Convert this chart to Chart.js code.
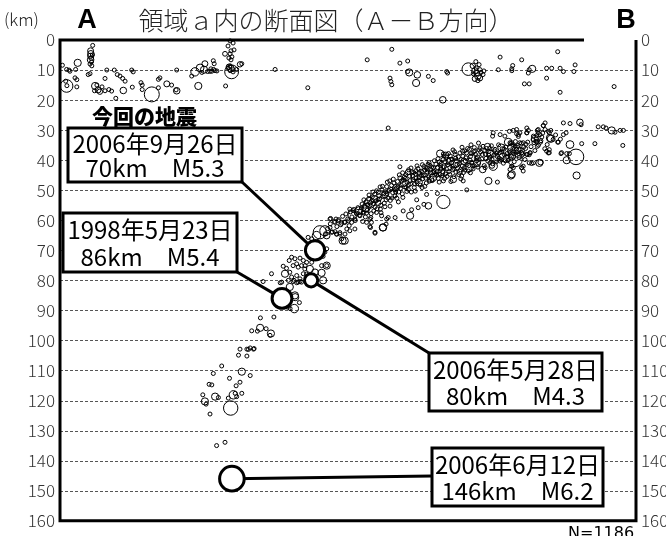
<!DOCTYPE html>
<html>
<head>
<meta charset="utf-8">
<script src="https://cdn.jsdelivr.net/npm/chart.js@4.4.1/dist/chart.umd.min.js"></script>
<style>
  body { margin: 0; background: #fff; }
  #wrap { width: 666px; height: 536px; }
</style>
</head>
<body>
<div id="wrap"><canvas id="chart" width="666" height="536"></canvas></div>
<script>
// 震源データ [断面方向の距離(km), 深さ(km), マグニチュード]
const shallowQuakes = [
  [0.8,8.4,2],[2.2,9.8,2],[3.0,10.0,2.6],[3.3,10.4,2],[5.9,7.6,3.3],[5.2,9.8,2],[1.9,13.7,2],[2.2,15.3,4.2],[2.3,15.2,2.5],[5.0,12.6,2.7],[5.6,13.2,2],[5.6,15.6,2],
  [10.9,1.8,2],[10.2,3.6,3.1],[10.3,4.6,3.2],[10.1,5.3,3],[10.4,6.0,2.9],[10.2,6.6,3.2],[10.5,7.3,2.6],[10.0,8.0,2.7],[10.6,8.6,2.5],[10.8,5.0,2],
  [9.4,11.5,2],[10.0,11.2,2],[11.7,15.3,3.3],[12.7,16.6,3.1],[11.5,16.9,2],[14.0,15.6,2.6],[13.3,17.2,3.0],[15.0,16.9,2],[16.3,16.5,2],[12.3,15.0,2],
  [15.0,12.8,2],[15.6,10.0,2.6],[17.2,17.0,2],[18.1,10.0,2],[19.1,11.5,2],[20.0,12.0,2],[20.9,12.8,2],[21.7,13.7,2],[18.6,19.4,2],[21.1,16.8,3.2],
  [23.9,10.0,2.6],[24.4,10.6,2.6],[24.1,15.7,2],[27.0,14.2,2],[27.4,15.0,2],[27.4,16.5,2],[30.6,18.1,4.6],[32.8,13.1,2],[33.3,12.6,2],[32.8,15.9,2],
  [35.6,14.6,3.1],[37.2,15.0,2],[38.9,10.0,2],[38.9,16.9,3.2],[38.7,16.6,2.6],[43.9,12.0,2],[46.1,15.3,3.3],
  [45.0,10.6,3.5],[46.7,9.3,3.4],[48.3,7.9,3.1],[48.0,9.9,3.3],[50.0,10.4,2.8],[50.3,9.6,2.6],[51.7,10.2,2.6],[51.2,9.8,2],[52.3,10.3,2],
  [51.1,6.9,2.6],[51.4,7.9,2.6],[50.6,10.4,2],[49.2,10.5,2],[47.3,10.8,2.6],[55.2,15.3,2],
  [56.7,0.3,2],[57.7,1.0,2],[56.0,2.0,2],[57.0,3.6,2],[58.0,3.3,2],[55.0,4.6,2.9],[56.7,4.6,2],[57.3,5.6,2],[56.3,6.0,2],[57.0,6.6,2],
  [56.7,8.6,2.6],[56.0,9.3,2.6],[57.7,9.9,2.6],[56.7,10.2,2.6],[57.7,10.6,2],[57.2,10.6,4.4],[58.9,9.8,2.6],[60.0,8.1,3.0],[60.6,7.9,2],[56.3,8.9,3.0],[57.0,9.5,3.2],
  [71.7,9.8,2],[82.6,15.9,2],
  [110.6,3.1,2],[102.4,6.6,2],[113.3,7.7,2],[115.9,7.0,2],[116.4,10.8,3.3],[115.9,10.5,2.6],[119.1,11.6,3.2],[118.7,14.3,3.3],[110.0,12.7,2],[110.3,13.8,2],
  [110.6,14.9,2],[122.8,12.1,2],[124.4,13.5,2],[128.9,10.5,2.6],[129.2,11.0,2.6],
  [136.1,9.7,4.2],[137.6,8.6,3.0],[138.3,10.3,3.2],[139.0,11.0,3.0],[139.3,12.0,3.2],[140.0,12.7,3.0],[138.7,9.3,2.8],[140.0,9.9,2.8],[139.7,8.2,2.6],
  [140.3,10.8,2.8],[138.3,12.9,3.0],[141.0,11.5,2.6],[139.3,13.5,2.8],[137.8,11.2,2.8],[141.3,10.3,2],[138.6,7.2,2],
  [127.6,19.9,3.2],
  [146.7,5.7,2],[146.1,9.9,2],[150.6,9.6,2],[150.9,8.5,2],[150.6,10.2,2],[153.9,6.6,2],[156.1,11.0,2],[156.4,9.9,2],[157.4,9.6,3.3],[162.2,9.4,2],
  [163.9,9.4,2],[166.7,9.4,2],[167.8,10.5,2],[165.9,3.9,2],[171.7,8.3,2.6],[171.3,10.5,2],[162.2,12.7,2],[154.8,14.6,2],[156.4,14.6,2],[166.7,17.4,2],
  [184.7,15.5,2],[109.4,29.3,2]
];

const slabQuakes = [
  // 東側の浅い部分
  [167.8,27.6,2],[170.0,27.8,2],[173.3,27.4,3.2],[173.7,28.2,2],[179.4,28.9,2],[181.1,28.9,2],[182.0,29.3,2],[183.9,30.1,3.3],[185.0,30.7,2],[186.7,30.1,2],
  [187.8,30.1,2],[187.6,35.1,2],[178.3,34.5,2],[173.9,34.5,2],[170.0,34.8,3.4],[172.0,38.9,4.7],[168.9,40.0,3.3],[168.9,37.8,2],[169.8,37.8,2],[172.2,45.1,3.3],
  [167.0,37.8,2],[166.1,34.0,2],[163.6,32.9,3.3],[163.1,30.9,2],[163.6,30.1,2],[161.1,28.5,2],[161.7,29.8,2],[162.4,34.8,2],[163.1,36.5,2],[162.8,37.6,2],
  [167.8,31.5,2],[168.7,30.9,2],[159.1,30.1,2],[159.4,30.9,2],[157.8,32.0,2],[158.7,32.9,2],[158.9,34.0,2],[160.2,34.0,2],[159.1,35.4,2],[159.8,40.9,3.3],
  [160.2,40.7,3.0],[156.7,37.6,2],[155.8,38.1,2],[153.9,37.6,2],[156.1,30.1,2],[155.6,30.9,2],[153.3,30.9,2],[152.2,31.2,2],[152.8,32.1,2],[149.8,30.4,2],
  [151.1,30.1,2],[149.4,34.0,3.4],[148.3,32.0,2],[146.7,31.5,2],[144.4,30.9,2],[144.2,32.0,2],[153.3,37.6,3.8],[151.7,39.8,4.5],[150.6,42.0,2],[150.0,43.1,2],
  [150.3,45.1,3.3],[154.4,42.0,2],[153.9,42.5,2],[142.8,46.9,3.3],[145.8,47.3,2],[144.4,42.0,3.5],[143.3,40.9,2],[141.7,42.5,2],[140.9,43.1,3.2],[146.7,40.3,2],
  [167.2,37.5,2],[165.9,34.0,2],[162.8,30.4,2],[163.3,32.6,3.3],[161.1,28.5,2],[159.4,29.8,2],[160.0,31.5,2],[160.6,32.3,2],[162.2,37.0,2],[163.1,37.5,2],
  [158.3,32.9,3.3],[158.7,33.7,2],[158.0,34.2,2],[156.7,37.5,2],[157.2,41.1,2],[156.4,40.9,2],[157.8,40.9,2],[155.6,29.3,2],[155.6,30.9,2],[154.4,34.2,2],
  [155.3,34.7,2],[152.2,29.8,2],[152.8,31.5,2],[153.3,34.2,2],[151.7,35.4,2],[150.6,34.2,2],[152.2,36.4,3.5],[153.9,37.5,2],[150.6,38.7,3.3],[155.0,39.8,2],
  [155.6,38.1,2],[150.6,42.0,2],[151.1,42.5,2],[153.9,42.5,2],[154.4,43.6,2],[150.6,44.7,3.3],[150.0,34.2,2],[161.7,27.6,2],
  // 孤立した点
  [126.7,37.8,3.3],[127.8,53.9,4.3],[122.8,55.2,3.2],[121.3,54.7,2],[119.4,55.8,2],[118.9,53.2,2],[122.2,51.4,2],[125.8,51.1,2],[135.6,49.9,2],[131.1,46.4,3.2],
  [134.4,46.9,2],[127.8,46.9,2],[116.7,58.5,3.3],[117.2,56.5,2],[114.4,56.9,2],[113.3,42.2,2],[105.0,64.3,2],[107.6,62.4,3.3],[108.7,61.3,2],[103.3,62.1,2],
  [102.2,60.7,2],[103.6,59.1,2],[109.4,59.1,2],[111.7,59.1,2],[94.2,66.8,3.3],[95.0,64.6,2],[93.3,64.1,2],[92.2,64.6,2],[91.7,63.8,2],[90.2,59.4,2],
  [92.0,59.6,2],[93.9,61.0,2],[95.6,62.9,2],[88.9,75.1,2],[83.9,74.0,2],[81.7,75.1,2],[82.2,77.9,2],
  // 帯状の密集部
  [88.5,64.5,2],[89.2,62.8,2],[90.1,61.2,2],[90.8,63.9,2],[91.5,60.4,2],[92.3,62.1,2],[92.9,59.8,2],[93.6,61.5,2],[94.2,58.7,2],[94.8,60.6,2],
  [95.3,57.9,2],[95.9,59.6,2],[96.4,61.8,2],[96.8,57.2,2],[97.3,58.9,2],[97.9,56.4,2],[98.4,60.1,2],[98.8,57.6,2],[99.3,55.8,2],[99.8,58.3,2],
  [100.2,56.9,2],[100.7,54.6,2],[101.1,57.5,2],[101.6,55.3,2],[97.5,58.2,3.6],[99.6,56.8,3.4],
  [102.0,53.9,2],[102.4,56.7,2],[102.9,52.8,2],[103.3,55.1,2],[103.7,57.8,2],[104.1,52.2,2],[104.5,54.4,2],[104.9,51.3,2],[105.3,53.6,2],[105.7,56.2,2],
  [106.1,50.7,2],[106.5,52.9,2],[106.9,55.0,2],[107.3,49.9,2],[107.7,52.1,2],[108.1,54.3,2],[108.5,50.5,2],[108.9,48.8,2],[109.3,52.6,2],[109.7,50.1,2],
  [110.1,53.4,2],[110.5,48.4,2],[110.9,50.8,2],[111.3,47.6,2],[111.7,51.9,2],[112.1,49.3,2],[102.6,54.8,2],[103.9,53.7,2],[105.0,55.6,2],[106.3,51.8,2],
  [107.9,51.2,2],[108.7,53.2,2],[110.3,49.7,2],[111.5,49.8,2],[104.3,50.6,2],[106.7,48.9,2],[109.1,47.3,2],[101.8,58.9,2],[100.9,60.4,2],
  [104.8,53.0,3.3],[108.3,51.5,3.2],[110.8,51.2,3.5],[106.1,54.2,3.0],[103.3,54.2,3.9],[102.0,55.7,3.5],[101.8,56.2,3.2],[112.0,49.2,3.2],
  [100.5,55.9,2],[101.3,53.2,2],[102.2,57.6,2],[103.0,51.6,2],[103.5,54.2,2],[104.6,56.9,2],[105.5,50.2,2],[106.0,53.1,2],[106.8,56.3,2],[107.5,48.7,2],
  [108.3,55.5,2],[109.0,51.1,2],[109.9,46.9,2],[110.7,52.6,2],[111.1,46.3,2],[111.9,50.6,2],[112.3,52.7,2],[110.0,55.3,2],[112.8,53.9,2],[107.0,57.5,2],[103.8,60.7,2],
  [112.5,47.1,2],[112.9,50.6,2],[113.3,45.9,2],[113.7,48.3,2],[114.1,51.2,2],[114.5,46.6,2],[114.9,48.9,2],[115.3,44.8,2],[115.7,47.4,2],[116.1,49.7,2],
  [116.5,45.3,2],[116.9,47.9,2],[117.3,43.9,2],[117.7,46.5,2],[118.1,49.1,2],[118.5,44.6,2],[118.9,47.2,2],[119.3,42.8,2],[119.7,45.8,2],[120.1,48.3,2],
  [120.5,43.7,2],[120.9,46.2,2],[121.3,42.1,2],[121.7,44.9,2],[122.1,47.6,2],[122.5,43.2,2],[122.9,45.6,2],[123.3,41.7,2],[123.7,44.2,2],[124.1,46.8,2],
  [124.5,42.5,2],[124.9,44.9,2],[112.7,48.8,2],[113.9,46.9,2],[115.1,46.1,2],[116.3,48.2,2],[117.5,45.1,2],[118.7,46.0,2],[119.9,44.3,2],[121.1,45.1,2],
  [122.3,44.0,2],[123.5,43.0,2],[124.7,43.8,2],[114.2,44.2,2],[117.0,42.6,2],[120.8,41.5,2],[118.4,50.3,2],[121.6,48.7,2],[115.6,50.4,2],[123.0,40.8,2],
  [113.1,44.9,2],[113.5,49.4,2],[114.3,52.4,2],[114.8,45.6,2],[115.4,49.1,2],[116.2,43.2,2],[116.7,46.8,2],[117.1,50.6,2],[117.9,44.1,2],[118.3,47.9,2],
  [119.0,41.9,2],[119.5,46.7,2],[120.3,45.1,2],[120.7,49.1,2],[121.5,43.3,2],[121.9,46.0,2],[122.7,41.4,2],[123.1,47.0,2],[123.9,42.3,2],[124.3,44.1,2],
  [124.8,40.2,2],[118.6,43.5,2],[122.0,42.6,2],
  [114.6,47.6,3.3],[118.2,45.4,3.2],[121.5,44.2,3.5],[124.3,45.9,3.3],[116.0,44.0,3.0],[119.6,47.4,3.3],[123.6,46.4,3.1],
  [125.3,41.3,2],[125.7,43.9,2],[126.1,46.1,2],[126.5,40.6,2],[126.9,42.9,2],[127.3,45.2,2],[127.7,39.8,2],[128.1,42.2,2],[128.5,44.6,2],[128.9,39.1,2],
  [129.3,41.5,2],[129.7,43.8,2],[130.1,38.6,2],[130.5,40.9,2],[130.9,43.2,2],[131.3,45.5,2],[131.7,38.1,2],[132.1,40.3,2],[132.5,42.6,2],[132.9,44.8,2],
  [133.3,37.6,2],[133.7,39.8,2],[134.1,41.9,2],[134.5,44.1,2],[134.9,36.9,2],[135.3,39.2,2],[135.7,41.4,2],[136.1,43.6,2],[136.5,36.4,2],[136.9,38.7,2],
  [137.3,40.8,2],[137.7,42.9,2],[138.1,35.8,2],[138.5,38.1,2],[138.9,40.2,2],[139.3,42.3,2],[139.7,36.6,2],
  [125.9,42.5,2],[127.0,41.1,2],[128.3,40.5,2],[129.6,40.0,2],[130.7,42.0,2],[131.9,39.3,2],[133.1,41.2,2],[134.3,38.7,2],[135.5,37.6,2],[136.7,40.0,2],
  [137.9,37.2,2],[139.1,38.9,2],[126.6,44.8,2],[129.0,45.4,2],[132.0,44.0,2],[135.0,43.3,2],[138.0,41.8,2],[127.8,37.9,2],[131.0,36.6,2],[134.0,35.7,2],
  [137.0,34.9,2],[139.5,34.3,2],[130.3,47.1,2],[133.6,46.2,2],
  [125.5,45.0,2],[126.0,39.5,2],[126.8,41.8,2],[127.5,43.8,2],[128.0,38.6,2],[128.8,42.9,2],[129.5,37.8,2],[129.9,44.7,2],[130.6,39.7,2],[131.2,42.7,2],
  [131.5,37.2,2],[132.3,41.4,2],[132.8,38.9,2],[133.5,43.2,2],[134.2,37.0,2],[134.8,42.5,2],[135.1,40.3,2],[135.9,36.1,2],[136.3,41.8,2],[137.1,37.8,2],
  [137.6,41.9,2],[138.3,36.9,2],[138.8,39.4,2],[139.5,40.8,2],[126.4,47.3,2],[128.2,46.1,2],[133.9,45.3,2],[136.8,44.2,2],
  [126.2,43.0,3.4],[129.4,42.3,3.3],[131.8,41.0,3.6],[134.7,40.4,3.2],[137.3,39.2,3.4],[139.0,41.0,3.3],[128.6,38.3,3.1],[133.2,43.9,3.0],[136.4,42.4,3.5],
  [127.1,44.1,3.3],[130.0,40.4,3.4],
  [140.2,37.3,2],[140.6,39.6,2],[141.0,35.4,2],[141.4,41.8,2],[141.8,38.0,2],[142.2,36.1,2],[142.6,40.3,2],[143.0,37.1,2],[143.4,39.0,2],[143.8,35.2,2],
  [144.2,41.2,2],[144.6,38.3,2],[145.0,36.4,2],[145.4,40.6,2],[145.8,38.8,2],[146.2,34.9,2],[146.6,37.5,2],[147.0,39.8,2],[147.4,36.2,2],[147.8,41.0,2],
  [148.2,38.3,2],[148.6,35.6,2],[149.0,37.8,2],[149.4,40.1,2],[149.8,36.9,2],[150.2,34.5,2],[150.6,38.7,2],[151.0,36.0,2],[151.4,40.5,2],[151.8,33.8,2],
  [152.2,37.4,2],[152.6,35.1,2],[153.0,39.2,2],[153.4,36.3,2],[153.8,34.4,2],[154.2,38.0,2],[154.6,35.6,2],
  [140.0,35.9,2],[140.8,38.1,2],[141.6,36.7,2],[142.0,39.4,2],[142.9,38.3,2],[143.2,36.1,2],[144.0,39.7,2],[144.8,36.9,2],[145.6,37.6,2],[146.4,39.4,2],
  [147.2,37.2,2],[148.0,36.3,2],[148.4,40.2,2],[149.2,38.8,2],[150.0,37.5,2],[151.2,38.9,2],[152.0,36.4,2],[152.9,37.8,2],
  [141.3,38.8,3.5],[143.6,37.9,3.3],[145.2,39.2,3.6],[146.9,38.4,3.4],[148.8,39.5,3.3],[142.5,35.5,3.2],[147.1,35.8,3.3],[150.5,35.8,3.4],[144.0,41.8,3.0],
  [155.2,36.1,2],[155.9,34.0,2],[156.4,38.2,2],[157.0,35.5,2],[157.7,33.2,2],[158.3,36.8,2],[158.9,31.8,2],[159.5,35.0,2],[160.3,33.5,2],[160.9,31.0,2],
  [161.6,36.2,2],[164.4,33.1,2],[165.2,31.6,2],[166.8,33.0,2]
];

const deepQuakes = [
  [96.6,56.3,2],[97.7,56.8,2],[98.9,57.9,2],[100.0,58.5,2],[96.1,60.2,2],[97.2,60.7,2],[98.3,59.6,2],[101.1,57.2,2],[103.3,59.6,2],[105.5,57.4,2],
  [107.2,58.5,2],[108.9,59.6,2],[107.7,62.4,3.3],[105.0,64.0,2],[103.5,62.4,2],[98.3,62.9,2],[96.6,63.5,2],[95.0,60.7,2],[92.7,60.2,2],[91.6,60.7,2],[90.0,59.6,2],
  [86.6,64.0,4.3],[88.3,63.5,3.8],[85.5,65.1,3.5],[88.9,65.1,3.2],[90.5,64.0,2],[92.2,64.6,2],[93.3,64.6,2],[90.0,62.4,2],[93.9,66.2,2],[94.9,66.8,3.3],
  [82.7,65.7,2],[83.9,66.2,2],[88.3,70.6,2],[88.9,69.5,2],[87.7,72.0,2],
  [77.2,72.3,2],[78.3,72.8,2],[80.0,72.6,2],[81.1,73.4,2],[78.9,74.5,2],[80.5,75.1,2],[82.2,74.0,2],[83.3,76.2,3.3],[81.6,76.2,2],[79.4,75.6,2],
  [77.7,75.1,2],[76.4,73.4,2],[75.5,76.0,2],[74.4,75.3,2],[76.6,77.3,2],[75.0,77.8,3.3],[77.2,78.9,2],[78.9,78.4,2],[80.0,79.5,2],[81.1,77.8,2],
  [87.2,75.1,2],[88.9,75.1,3.3],[85.0,77.3,3.2],[87.2,77.5,3.3],
  [70.5,77.8,2],[67.7,80.4,2],[73.9,80.6,2],[77.7,80.4,2],[79.4,80.6,2],[80.5,80.6,2],[87.7,80.0,3.3],[73.3,83.3,2],[76.6,82.2,3.3],[78.3,85.0,3.3],
  [73.4,80.8,2],[76.1,80.0,2],[78.0,80.0,2],[78.9,80.8,2],[80.0,80.4,2],
  [78.4,85.6,3.3],[79.8,87.4,2],[78.1,89.4,3.5],[75.8,88.9,2],[76.7,89.4,2],
  [66.8,92.5,2],[71.3,92.2,2],[66.7,95.8,3.3],[63.9,96.8,2],[65.8,96.9,2],[68.7,96.1,2],[70.3,97.7,3.3],[70.0,98.3,2],
  [62.8,103.0,2],[63.4,102.5,2],[64.5,102.9,2],[62.3,102.9,2],[60.0,102.9,2],[59.5,104.9,2],[62.3,105.2,2],[64.7,102.7,2],
  [53.9,108.5,2],[60.6,110.4,3.3],[63.4,111.7,2],[51.1,111.0,2],[56.5,112.6,2],[49.7,114.6,2],[50.6,114.8,2],[58.7,115.1,2],[60.0,113.9,2],
  [60.6,117.6,2],[57.8,118.1,3.5],[58.4,117.6,2],[58.9,118.7,2],[56.1,119.2,2],[51.7,118.7,3.3],[52.8,119.0,2],[47.6,118.1,2],[48.3,120.3,3.3],[48.7,121.2,2],
  [56.9,122.5,4.5],[50.0,124.5,2],[52.2,135.0,2],[55.0,133.9,2]
];

// 注目する地震
const keyEvents = [[85.0,70,5.3],[74.0,86,5.4],[83.7,80,4.3],[57.3,146,6.2]];
const keyDates = ['2006年9月26日','1998年5月23日','2006年5月28日','2006年6月12日'];
const keyDetails = ['70km　M5.3','86km　M5.4','80km　M4.3','146km　M6.2'];

const depthTicks = [0,10,20,30,40,50,60,70,80,90,100,110,120,130,140,150,160];
const gridDepths = [10,20,30,40,50,60,70,80,90,100,110,120,130,140,150];

// 吹き出しの位置 (ピクセル)
const boxLayout = [
  { x: 68,  y: 128, w: 174, h: 54, ax: 242, ay: 182 },
  { x: 63,  y: 213, w: 174, h: 59, ax: 237, ay: 272 },
  { x: 429, y: 353, w: 173, h: 58, ax: 429, ay: 353 },
  { x: 432, y: 448, w: 171, h: 58, ax: 432, ay: 476 }
];

const magRadius = m => Math.max(2, 3 * (m - 2.1));
const toPoints = arr => arr.map(q => ({ x: q[0], y: q[1], m: q[2] }));

const allQuakes = [...shallowQuakes, ...slabQuakes, ...deepQuakes];

const decor = {
  id: 'decor',
  beforeDatasetsDraw(chart) {
    const { ctx, chartArea: a, scales: { y } } = chart;
    ctx.save();
    ctx.strokeStyle = '#555';
    ctx.lineWidth = 1;
    ctx.setLineDash([3, 2]);
    gridDepths.forEach(d => {
      const py = Math.round(y.getPixelForValue(d)) + 0.5;
      ctx.beginPath();
      ctx.moveTo(a.left, py);
      ctx.lineTo(a.right, py);
      ctx.stroke();
    });
    ctx.restore();
  },
  afterDatasetDraw(chart, args) {
    if (args.index !== 0) return;
    const { ctx, scales: { x, y } } = chart;
    ctx.save();
    ctx.strokeStyle = '#000';
    ctx.lineWidth = 3;
    keyEvents.forEach((ev, i) => {
      const b = boxLayout[i];
      ctx.beginPath();
      ctx.moveTo(x.getPixelForValue(ev[0]), y.getPixelForValue(ev[1]));
      ctx.lineTo(b.ax, b.ay);
      ctx.stroke();
    });
    ctx.restore();
  },
  afterDatasetsDraw(chart) {
    const { ctx, chartArea: a } = chart;
    ctx.save();
    // 枠
    ctx.strokeStyle = '#000';
    ctx.lineWidth = 3;
    ctx.beginPath();
    ctx.moveTo(584, a.top);
    ctx.lineTo(a.left, a.top);
    ctx.lineTo(a.left, a.bottom);
    ctx.lineTo(a.right, a.bottom);
    ctx.lineTo(a.right, a.top);
    ctx.stroke();

    // 吹き出し
    boxLayout.forEach((b, i) => {
      ctx.fillStyle = '#fff';
      ctx.fillRect(b.x, b.y, b.w, b.h);
      ctx.lineWidth = 3;
      ctx.strokeRect(b.x, b.y, b.w, b.h);
      ctx.fillStyle = '#000';
      ctx.font = '24px "Noto Sans CJK JP"';
      ctx.textAlign = 'center';
      ctx.textBaseline = 'middle';
      const cx = b.x + b.w / 2;
      ctx.fillText(keyDates[i], cx, b.y + b.h * 0.29);
      ctx.fillText(keyDetails[i], cx, b.y + b.h * 0.74);
    });

    // タイトル類
    ctx.fillStyle = '#222';
    ctx.textBaseline = 'middle';
    ctx.textAlign = 'left';
    ctx.font = '300 17px "Noto Sans CJK JP"';
    ctx.fillText('(km)', 4, 20);
    ctx.font = '300 25px "Noto Sans CJK JP"';
    ctx.textAlign = 'center';
    ctx.fillText('領域ａ内の断面図（Ａ－Ｂ方向）', 326, 20);
    ctx.fillStyle = '#000';
    ctx.font = 'bold 27px "Liberation Sans"';
    ctx.fillText('A', 87, 21);
    ctx.fillText('B', 626, 21);
    ctx.font = '900 21px "Noto Sans CJK JP"';
    ctx.textAlign = 'left';
    ctx.fillText('今回の地震', 92, 116);
    ctx.font = '16px "DejaVu Sans"';
    ctx.fillText('N=1186', 568, 534);
    ctx.restore();
  }
};

new Chart(document.getElementById('chart'), {
  type: 'scatter',
  data: {
    datasets: [
      {
        data: toPoints(allQuakes),
        pointRadius: ctx => magRadius(ctx.raw.m),
        pointBorderColor: '#000',
        pointBackgroundColor: 'rgba(0,0,0,0)',
        pointBorderWidth: 1,
        clip: false,
        order: 2
      },
      {
        data: toPoints(keyEvents),
        pointRadius: ctx => magRadius(ctx.raw.m),
        pointBorderColor: '#000',
        pointBackgroundColor: '#fff',
        pointBorderWidth: 3,
        clip: false,
        order: 1
      }
    ]
  },
  options: {
    responsive: false,
    animation: false,
    devicePixelRatio: 1,
    layout: { padding: { top: 40, bottom: 13, left: 0, right: 0 } },
    plugins: { legend: { display: false }, tooltip: { enabled: false } },
    scales: {
      x: { type: 'linear', min: 0, max: 192, display: false },
      y: {
        position: 'left', reverse: true, min: 0, max: 160,
        afterBuildTicks: s => { s.ticks = depthTicks.map(v => ({ value: v })); },
        afterFit: s => { s.width = 60; },
        grid: { display: false, drawTicks: false },
        border: { display: false },
        ticks: { padding: 5, color: '#333', font: { family: '"Noto Sans CJK JP"', size: 17, weight: 300 } }
      },
      y2: {
        position: 'right', reverse: true, min: 0, max: 160,
        afterBuildTicks: s => { s.ticks = depthTicks.map(v => ({ value: v })); },
        afterFit: s => { s.width = 30; },
        grid: { display: false, drawTicks: false },
        border: { display: false },
        ticks: { padding: 5, color: '#333', font: { family: '"Noto Sans CJK JP"', size: 17, weight: 300 } }
      }
    }
  },
  plugins: [decor]
});
</script>
</body>
</html>
